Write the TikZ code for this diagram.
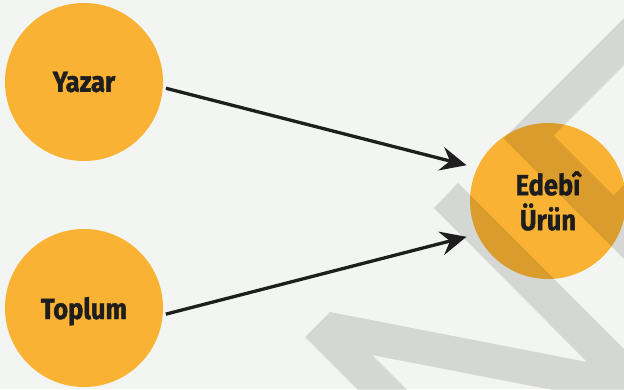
\documentclass[tikz,border=0pt]{standalone}
\usepackage{fontspec}
\usepackage[HTML]{xcolor}
\usetikzlibrary{positioning, arrows.meta}
\newfontfamily\circlefont{Fira Sans}[BoldFeatures={FakeBold=1.3, FakeStretch=0.88}]
\definecolor{bgpaper}{HTML}{F2F5F1}
\definecolor{sunorange}{HTML}{F9B233}
\definecolor{inkdark}{HTML}{1E1E1E}
\tikzset{
  dot/.style={circle, fill=sunorange, minimum size=158pt, inner sep=0pt,
    text=inkdark, align=center,
    font=\circlefont\bfseries\fontsize{29}{35}\selectfont},
  flow/.style={line width=3.3pt, draw=inkdark,
    -{Stealth[length=26pt,width=24pt,inset=9pt]}}
}

\begin{document}
\begin{tikzpicture}[x=1pt,y=1pt]
\fill[bgpaper] (0,0) rectangle (624,389);
\useasboundingbox (0,0) rectangle (624,389);
\node[dot] (yazar) at (84,307) {Yazar};
\node[dot, text depth=0pt] (toplum) at (84,81) {Toplum};
\node[dot, minimum size=156pt] (urun) at (548,188) {Edebî\\Ürün};
\begin{scope}
\clip (0,0) rectangle (624,389);
\fill[black, opacity=0.12] (700,447) -- (503.5,250.5) -- (650,104) -- (650,230)
  -- (613.5,193.5) -- (553.5,253.5) -- (750,450) -- cycle;
\fill[black, opacity=0.12] (434,181) -- (458,206) -- (692,-28) -- (372,34)
  -- (440,-34) -- (388,-31) -- (305,52) -- (330,77) -- (587,27) -- cycle;
\end{scope}
\draw[flow, shorten <=3pt, shorten >=11pt] (yazar.-4) -- (urun.155);
\draw[flow, shorten <=3pt, shorten >=11pt] (toplum.-5) -- (urun.205);
\end{tikzpicture}
\end{document}
